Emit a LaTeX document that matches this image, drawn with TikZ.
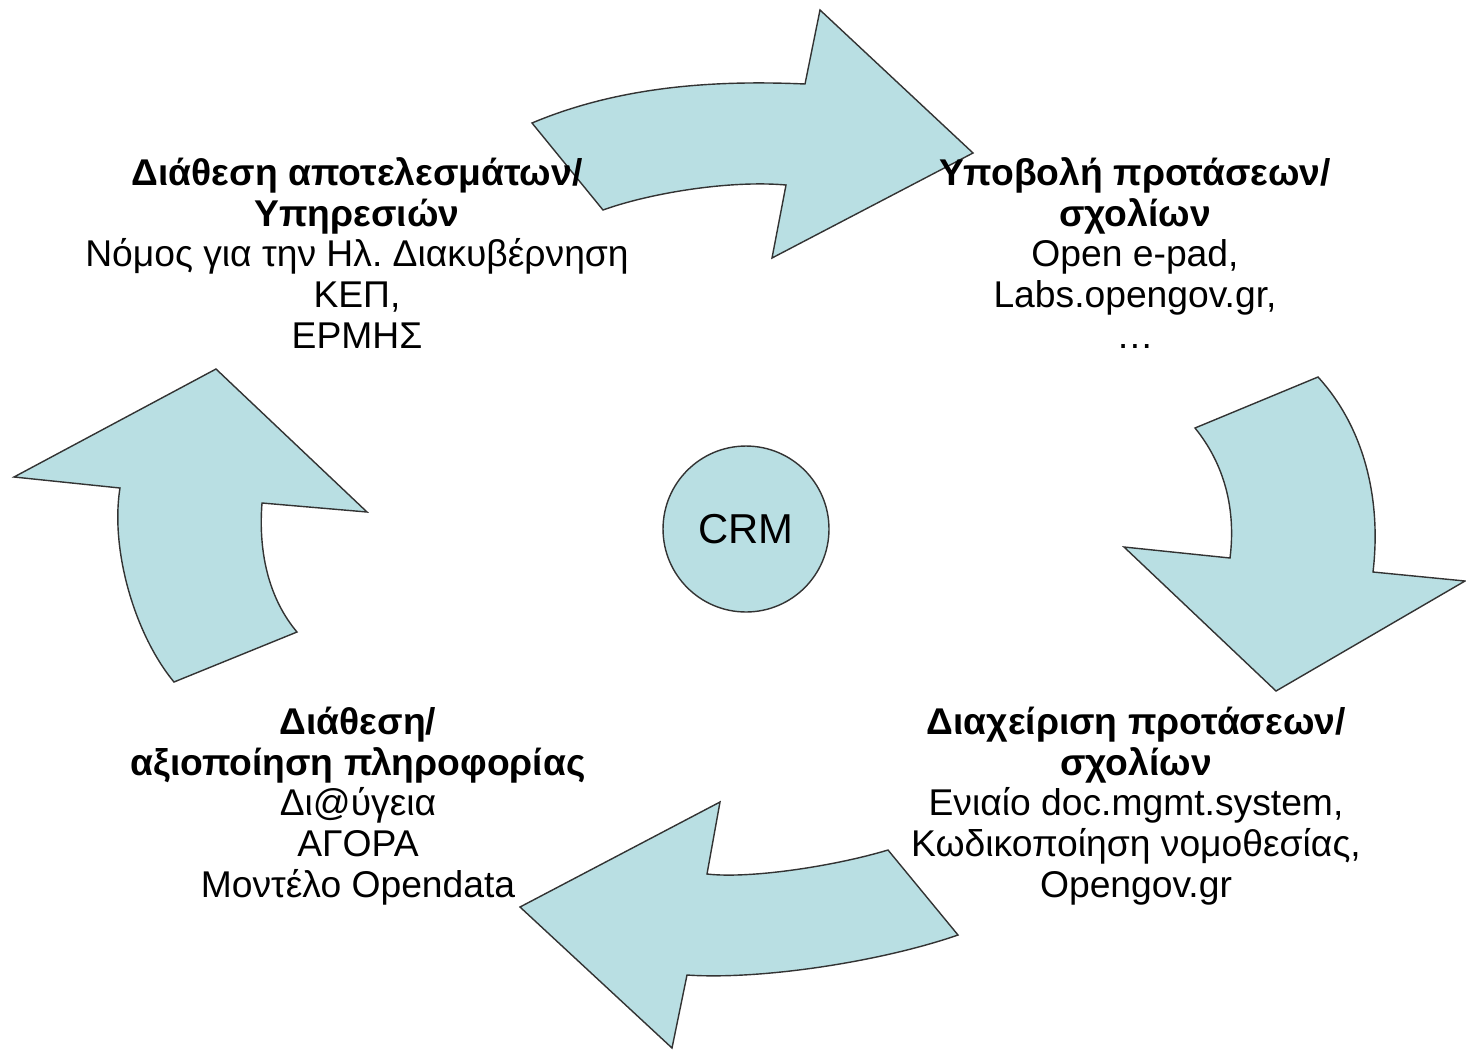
\documentclass[tikz,border=0pt]{standalone}
\usepackage{fontspec}
\setmainfont{Liberation Sans}
\usepackage{xcolor}
\definecolor{cyclefill}{RGB}{185,223,227}
\frenchspacing

\begin{document}
\begin{tikzpicture}[x=0.02cm,y=-0.02cm,
    cyclearrow/.style={fill=cyclefill, draw=black!80, line width=0.8pt, line join=miter},
    stagetext/.style={align=center, inner sep=0pt, font=\fontsize{21.2}{23.2}\selectfont}]

      \useasboundingbox (0,0) rectangle (1466,1052);

      % Top arrow
      \draw[cyclearrow] (532,123) .. controls (620,86) and (715,80) .. (805,84)
        -- (820,10) -- (973,153) -- (772,258) -- (786,185)
        .. controls (730,180) and (650,193) .. (603,210) -- cycle;

      % Right arrow
      \draw[cyclearrow] (1195,428) -- (1318,377)
        .. controls (1362,425) and (1382,495) .. (1373,572)
        -- (1465,581) -- (1276,691) -- (1124,547) -- (1230,558)
        .. controls (1236,510) and (1225,465) .. (1195,428) -- cycle;

      % Bottom arrow
      \draw[cyclearrow] (888,850) .. controls (835,866) and (750,879) .. (707,874)
        -- (720,802) -- (520,907) -- (672,1048) -- (687,975)
        .. controls (760,980) and (880,962) .. (958,935) -- cycle;

      % Left arrow
      \draw[cyclearrow] (14,477) -- (216,369) -- (367,512) -- (262,503)
        .. controls (258,555) and (270,600) .. (297,632)
        -- (174,682)
        .. controls (135,635) and (110,550) .. (120,488) -- cycle;

      % Centre
      \node[circle, cyclearrow, minimum size=3.32cm, inner sep=0pt,
            font=\fontsize{23.8}{26}\selectfont] (crm) at (746,529) {CRM};

      % Stages
      \node[stagetext] (results) at (357,253)
        {\textbf{Διάθεση αποτελεσμάτων/}\\ \textbf{Υπηρεσιών}\\
         Νόμος για την Ηλ. Διακυβέρνηση\\ ΚΕΠ,\\ ΕΡΜΗΣ};
      \node[stagetext] (submit) at (1135,253)
        {\textbf{Υποβολή προτάσεων/}\\ \textbf{σχολίων}\\
         Open e-pad,\\ Labs.opengov.gr,\\ …};
      \node[stagetext] (manage) at (1136,806)
        {\textbf{Διαχείριση προτάσεων/}\\ \textbf{σχολίων}\\
         Ενιαίο doc.mgmt.system,\\ Κωδικοποίηση νομοθεσίας,\\ Opengov.gr};
      \node[stagetext] (reuse) at (358,806)
        {\textbf{Διάθεση/}\\ \textbf{αξιοποίηση πληροφορίας}\\
         Δι@ύγεια\\ ΑΓΟΡΑ\\ Μοντέλο Opendata};

  \end{tikzpicture}
\end{document}
